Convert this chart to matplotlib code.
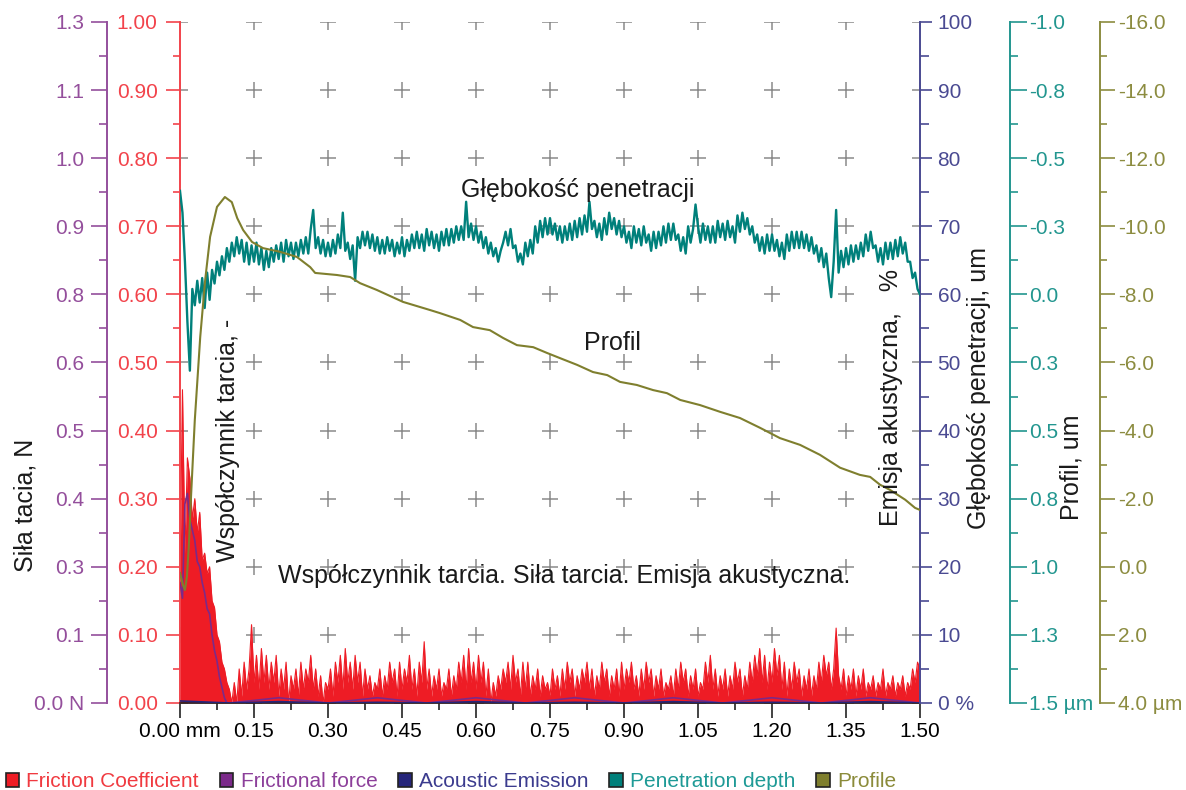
import numpy as np
import matplotlib.pyplot as plt
from matplotlib.patches import Patch

plt.rcParams['font.family'] = ['Liberation Sans', 'DejaVu Sans']

# scratch distance, mm (one sample every 0.005 mm)
dist_mm = np.round(np.arange(301) * 0.005, 3)

# friction coefficient, -  (20 samples per row = 0.1 mm)
friction_coef = [
    0.19, 0.46, 0.22, 0.36, 0.33, 0.27, 0.30, 0.25, 0.28, 0.21, 0.22, 0.19, 0.20, 0.15, 0.14, 0.10, 0.09, 0.06, 0.05, 0.03,
    0.02, 0.00, 0.03, 0.00, 0.05, 0.01, 0.06, 0.02, 0.05, 0.115, 0.03, 0.07, 0.02, 0.08, 0.03, 0.07, 0.02, 0.06, 0.03, 0.07,
    0.01, 0.05, 0.02, 0.06, 0.00, 0.04, 0.02, 0.05, 0.01, 0.06, 0.02, 0.05, 0.03, 0.07, 0.02, 0.05, 0.01, 0.04, 0.00, 0.03,
    0.02, 0.05, 0.01, 0.06, 0.03, 0.07, 0.02, 0.08, 0.03, 0.06, 0.02, 0.07, 0.03, 0.06, 0.01, 0.05, 0.02, 0.04, 0.01, 0.03,
    0.02, 0.05, 0.01, 0.04, 0.02, 0.06, 0.03, 0.05, 0.01, 0.06, 0.02, 0.05, 0.03, 0.07, 0.02, 0.05, 0.01, 0.06, 0.03, 0.09,
    0.02, 0.05, 0.01, 0.04, 0.02, 0.05, 0.01, 0.03, 0.02, 0.05, 0.01, 0.04, 0.02, 0.06, 0.03, 0.07, 0.02, 0.08, 0.03, 0.06,
    0.02, 0.07, 0.03, 0.06, 0.01, 0.05, 0.00, 0.03, 0.01, 0.04, 0.02, 0.05, 0.03, 0.06, 0.02, 0.07, 0.03, 0.05, 0.01, 0.06,
    0.02, 0.06, 0.01, 0.04, 0.02, 0.05, 0.01, 0.04, 0.02, 0.03, 0.01, 0.05, 0.02, 0.04, 0.01, 0.05, 0.02, 0.06, 0.03, 0.05,
    0.01, 0.04, 0.02, 0.05, 0.03, 0.06, 0.02, 0.05, 0.01, 0.04, 0.02, 0.06, 0.03, 0.05, 0.01, 0.04, 0.02, 0.05, 0.01, 0.06,
    0.02, 0.05, 0.03, 0.06, 0.02, 0.04, 0.01, 0.05, 0.02, 0.06, 0.03, 0.05, 0.01, 0.04, 0.02, 0.05, 0.01, 0.03, 0.02, 0.04,
    0.01, 0.05, 0.02, 0.06, 0.03, 0.05, 0.01, 0.04, 0.02, 0.05, 0.01, 0.03, 0.02, 0.06, 0.03, 0.07, 0.02, 0.05, 0.01, 0.04,
    0.02, 0.05, 0.01, 0.04, 0.02, 0.06, 0.03, 0.05, 0.01, 0.04, 0.02, 0.06, 0.03, 0.07, 0.04, 0.08, 0.03, 0.07, 0.02, 0.06,
    0.03, 0.08, 0.04, 0.07, 0.02, 0.06, 0.01, 0.05, 0.02, 0.06, 0.03, 0.05, 0.01, 0.04, 0.02, 0.05, 0.01, 0.04, 0.02, 0.06,
    0.03, 0.07, 0.04, 0.06, 0.02, 0.05, 0.11, 0.04, 0.02, 0.05, 0.01, 0.04, 0.02, 0.05, 0.01, 0.04, 0.02, 0.05, 0.01, 0.03,
    0.02, 0.04, 0.01, 0.03, 0.02, 0.05, 0.01, 0.03, 0.02, 0.04, 0.01, 0.03, 0.02, 0.04, 0.01, 0.03, 0.02, 0.05, 0.03, 0.06, 0.05,
]

# penetration depth, um (same sampling)
penetration_um = [
    -0.38, -0.30, -0.12, 0.10, 0.28, -0.02, 0.04, -0.05, 0.03, -0.06, 0.05, -0.08, 0.02, -0.09, -0.04, -0.12, -0.07, -0.14, -0.09, -0.17,
    -0.12, -0.19, -0.14, -0.21, -0.15, -0.20, -0.12, -0.19, -0.11, -0.18, -0.12, -0.19, -0.11, -0.17, -0.09, -0.16, -0.10, -0.17, -0.12, -0.18,
    -0.13, -0.19, -0.12, -0.20, -0.14, -0.19, -0.13, -0.19, -0.14, -0.20, -0.15, -0.21, -0.15, -0.24, -0.31, -0.17, -0.21, -0.15, -0.20, -0.14,
    -0.19, -0.14, -0.20, -0.15, -0.22, -0.17, -0.30, -0.16, -0.19, -0.13, -0.18, -0.05, -0.21, -0.17, -0.23, -0.18, -0.23, -0.17, -0.22, -0.16,
    -0.21, -0.15, -0.20, -0.15, -0.21, -0.16, -0.20, -0.14, -0.19, -0.15, -0.21, -0.14, -0.20, -0.16, -0.22, -0.17, -0.23, -0.17, -0.22, -0.16,
    -0.24, -0.18, -0.23, -0.17, -0.22, -0.16, -0.23, -0.18, -0.24, -0.18, -0.24, -0.19, -0.25, -0.20, -0.25, -0.20, -0.34, -0.21, -0.26, -0.20,
    -0.25, -0.19, -0.23, -0.17, -0.21, -0.15, -0.19, -0.14, -0.17, -0.12, -0.16, -0.19, -0.23, -0.18, -0.24, -0.17, -0.18, -0.12, -0.15, -0.11,
    -0.19, -0.14, -0.20, -0.15, -0.25, -0.19, -0.27, -0.21, -0.28, -0.22, -0.28, -0.22, -0.26, -0.20, -0.25, -0.19, -0.25, -0.20, -0.26, -0.20,
    -0.27, -0.21, -0.28, -0.22, -0.29, -0.23, -0.34, -0.24, -0.27, -0.21, -0.26, -0.20, -0.28, -0.22, -0.30, -0.24, -0.28, -0.22, -0.27, -0.21,
    -0.25, -0.19, -0.23, -0.17, -0.25, -0.19, -0.24, -0.18, -0.25, -0.19, -0.22, -0.16, -0.23, -0.17, -0.23, -0.18, -0.25, -0.19, -0.26, -0.20,
    -0.26, -0.20, -0.22, -0.16, -0.21, -0.15, -0.25, -0.19, -0.24, -0.33, -0.25, -0.19, -0.26, -0.20, -0.25, -0.19, -0.25, -0.19, -0.27, -0.21,
    -0.26, -0.20, -0.27, -0.21, -0.25, -0.19, -0.29, -0.23, -0.30, -0.24, -0.28, -0.22, -0.25, -0.19, -0.22, -0.16, -0.21, -0.15, -0.22, -0.16,
    -0.22, -0.16, -0.20, -0.14, -0.19, -0.13, -0.22, -0.16, -0.23, -0.17, -0.23, -0.17, -0.23, -0.17, -0.22, -0.16, -0.21, -0.15, -0.18, -0.12,
    -0.17, -0.10, -0.15, -0.06, 0.01, -0.12, -0.31, -0.08, -0.16, -0.10, -0.17, -0.11, -0.18, -0.12, -0.18, -0.13, -0.19, -0.14, -0.22, -0.16,
    -0.23, -0.17, -0.18, -0.12, -0.17, -0.11, -0.19, -0.13, -0.19, -0.13, -0.20, -0.14, -0.21, -0.15, -0.19, -0.12, -0.12, -0.06, -0.08, -0.02, 0.00,
]

# frictional force, N
force_mm = [0.000, 0.005, 0.010, 0.015, 0.020, 0.025, 0.030, 0.035, 0.040, 0.045, 0.050, 0.055, 0.060,
            0.065, 0.070, 0.075, 0.080, 0.085, 0.090, 0.095, 0.100, 0.20, 0.30, 0.40, 0.50, 0.60,
            0.70, 0.80, 0.90, 1.00, 1.10, 1.20, 1.30, 1.40, 1.50]
force_n = [0.23, 0.20, 0.38, 0.40, 0.35, 0.33, 0.31, 0.27, 0.26, 0.23, 0.21, 0.18, 0.17,
           0.13, 0.10, 0.08, 0.05, 0.03, 0.01, 0.00, 0.00, 0.01, 0.00, 0.01, 0.00, 0.01,
           0.00, 0.01, 0.00, 0.01, 0.00, 0.01, 0.00, 0.01, 0.00]

# acoustic emission, %
ae_mm = [0.0, 0.1, 0.2, 0.3, 0.4, 0.5, 0.6, 0.7, 0.8, 0.9, 1.0, 1.1, 1.2, 1.3, 1.4, 1.5]
ae_pct = [0.3, 0.0, 0.2, 0.0, 0.1, 0.0, 0.2, 0.0, 0.1, 0.0, 0.2, 0.0, 0.1, 0.0, 0.2, 0.0]

# surface profile, um
profile_mm = [0.000, 0.006, 0.010, 0.014, 0.018, 0.022, 0.030, 0.041, 0.051, 0.061, 0.075, 0.091,
              0.105, 0.116, 0.128, 0.146, 0.168, 0.203, 0.237, 0.264, 0.274, 0.318, 0.345, 0.365,
              0.399, 0.452, 0.507, 0.527, 0.568, 0.594, 0.628, 0.655, 0.683, 0.716, 0.744, 0.770,
              0.805, 0.837, 0.866, 0.892, 0.926, 0.959, 0.987, 1.014, 1.054, 1.095, 1.135, 1.176,
              1.216, 1.257, 1.297, 1.338, 1.378, 1.399, 1.419, 1.439, 1.470, 1.490, 1.500]
profile_um = [0.18, 0.53, 0.68, 0.30, -0.64, -1.96, -4.31, -6.75, -8.42, -9.69, -10.57, -10.86,
              -10.71, -10.24, -9.89, -9.54, -9.36, -9.25, -9.10, -8.80, -8.63, -8.57, -8.51, -8.33,
              -8.13, -7.78, -7.54, -7.45, -7.25, -7.04, -6.95, -6.72, -6.51, -6.45, -6.28, -6.13,
              -5.93, -5.72, -5.63, -5.43, -5.34, -5.19, -5.10, -4.90, -4.75, -4.55, -4.37, -4.08,
              -3.78, -3.58, -3.29, -2.91, -2.70, -2.64, -2.41, -2.26, -1.97, -1.73, -1.67]

x_labels = ['0.00 mm', '0.15', '0.30', '0.45', '0.60', '0.75', '0.90', '1.05', '1.20', '1.35', '1.50']
force_labels = ['0.0 N', '0.1', '0.3', '0.4', '0.5', '0.6', '0.8', '0.9', '1.0', '1.1', '1.3']
coef_labels = ['%.2f' % (i / 10) for i in range(11)]
ae_labels = ['0 %'] + [str(i * 10) for i in range(1, 11)]
pen_labels = ['-1.0', '-0.8', '-0.5', '-0.3', '0.0', '0.3', '0.5', '0.8', '1.0', '1.3', '1.5 µm']
prof_labels = ['-16.0', '-14.0', '-12.0', '-10.0', '-8.0', '-6.0', '-4.0', '-2.0', '0.0', '2.0', '4.0 µm']

RED, RED_AX = '#ee1c25', '#f2434b'
PURPLE, PURPLE_AX = '#7b2a8a', '#944f9c'
NAVY, NAVY_AX = '#25257a', '#4a4a92'
TEAL, TEAL_AX = '#00807b', '#22968f'
OLIVE, OLIVE_AX = '#7f7f2e', '#8c8c40'

W, H = 1186, 790
fig = plt.figure(figsize=(W / 100, H / 100), dpi=100)
ax = fig.add_axes([180 / W, 1 - 703 / H, 740 / W, 681 / H])


def fx(px):
    return px / W


def fy(py):
    return 1 - py / H


def style_y(a, side, color, lim, major, labels, minor, offset_px, tick_len, minor_len, pad):
    a.set_ylim(lim)
    for s in a.spines.values():
        s.set_visible(False)
    sp = a.spines[side]
    sp.set_visible(True)
    sp.set_color(color)
    sp.set_linewidth(1.4)
    if offset_px:
        sp.set_position(('outward', offset_px * 0.72))
    a.yaxis.set_ticks_position(side)
    a.set_yticks(major)
    a.set_yticklabels(labels)
    a.set_yticks(minor, minor=True)
    a.tick_params(axis='y', which='major', direction='out', length=tick_len * 0.72, width=1.2,
                  color=color, labelcolor=color, labelsize=15, pad=pad)
    a.tick_params(axis='y', which='minor', direction='out', length=minor_len * 0.72, width=1.2, color=color)


# main axes: friction coefficient
ax.set_xlim(0, 1.5)
x_major = np.arange(11) * 0.15
ax.set_xticks(x_major)
ax.set_xticklabels(x_labels)
ax.set_xticks(np.arange(10) * 0.15 + 0.075, minor=True)
ax.tick_params(axis='x', which='major', length=15 * 0.72, width=1.2, labelsize=15, pad=3, color='#222222')
ax.tick_params(axis='x', which='minor', length=7 * 0.72, width=1.2, color='#222222')
style_y(ax, 'left', RED_AX, (0, 1), np.arange(11) * 0.1, coef_labels,
        np.arange(10) * 0.1 + 0.05, 0, 14, 7, 6)
ax.spines['bottom'].set_visible(True)
ax.spines['bottom'].set_color('#222222')
ax.spines['bottom'].set_linewidth(1.2)

# grid crosses
gx, gy = np.meshgrid(x_major, np.arange(11) * 0.1)
ax.plot(gx.ravel(), gy.ravel(), ls='none', marker='+', ms=12, mew=1.1, color='#8a8a8a', zorder=1)

ax.fill_between(dist_mm, 0, friction_coef, color=RED, lw=0, zorder=2)
ax.plot(dist_mm, friction_coef, color=RED, lw=0.8, zorder=2)

ax_f = ax.twinx()
style_y(ax_f, 'left', PURPLE_AX, (0, 1.3), np.arange(11) * 0.13, force_labels,
        np.arange(10) * 0.13 + 0.065, 73, 16, 8, 5)
ax_f.plot(force_mm, force_n, color=PURPLE, lw=1.2)

ax_a = ax.twinx()
style_y(ax_a, 'right', NAVY_AX, (0, 100), np.arange(11) * 10, ae_labels,
        np.arange(10) * 10 + 5, 0, 12, 9, 4)
ax_a.plot(ae_mm, ae_pct, color=NAVY, lw=1.2)

ax_t = ax.twinx()
style_y(ax_t, 'right', TEAL_AX, (1.5, -1.0), np.arange(11) * 0.25 - 1.0, pen_labels,
        np.arange(10) * 0.25 - 0.875, 90, 17, 8, 1.5)
ax_t.plot(dist_mm, penetration_um, color=TEAL, lw=1.7)

ax_o = ax.twinx()
style_y(ax_o, 'right', OLIVE_AX, (4, -16), np.arange(11) * 2.0 - 16, prof_labels,
        np.arange(10) * 2.0 - 15, 180, 15, 7, 2)
ax_o.plot(profile_mm, profile_um, color=OLIVE, lw=1.5)

# axis titles and captions
lab = dict(fontsize=18, color='#1a1a1a', rotation=90, ha='center', va='center')
fig.text(fx(25), fy(505), 'Siła tacia, N', **lab)
fig.text(fx(228), fy(440), 'Współczynnik tarcia, -', **lab)
fig.text(fx(891), fy(397), 'Emisja akustyczna,   %', **lab)
fig.text(fx(979), fy(388), 'Głębokość penetracji, um', **lab)
fig.text(fx(1072), fy(467), 'Profil, um', **lab)
cap = dict(fontsize=18, color='#1a1a1a', ha='center', va='center')
fig.text(fx(578), fy(190), 'Głębokość penetracji', **cap)
fig.text(fx(612), fy(343), 'Profil', **cap)
fig.text(fx(564), fy(576), 'Współczynnik tarcia. Siła tarcia. Emisja akustyczna.', **cap)

names = ['Friction Coefficient', 'Frictional force', 'Acoustic Emission', 'Penetration depth', 'Profile']
fills = [RED, PURPLE, NAVY, TEAL, OLIVE]
text_cols = ['#f03a40', '#8c3f9a', '#3b3b8e', '#1e9a96', '#8b8b3a']
handles = [Patch(facecolor=c, edgecolor='#222222', lw=1.2) for c in fills]
leg = fig.legend(handles, names, loc='lower left', bbox_to_anchor=(-0.005, -0.016), ncol=5,
                 frameon=False, fontsize=15, handlelength=0.65, handleheight=0.65,
                 handletextpad=0.35, columnspacing=1.0, borderaxespad=0.15)
for t, c in zip(leg.get_texts(), text_cols):
    t.set_color(c)

fig.savefig('out.png', dpi=100)
